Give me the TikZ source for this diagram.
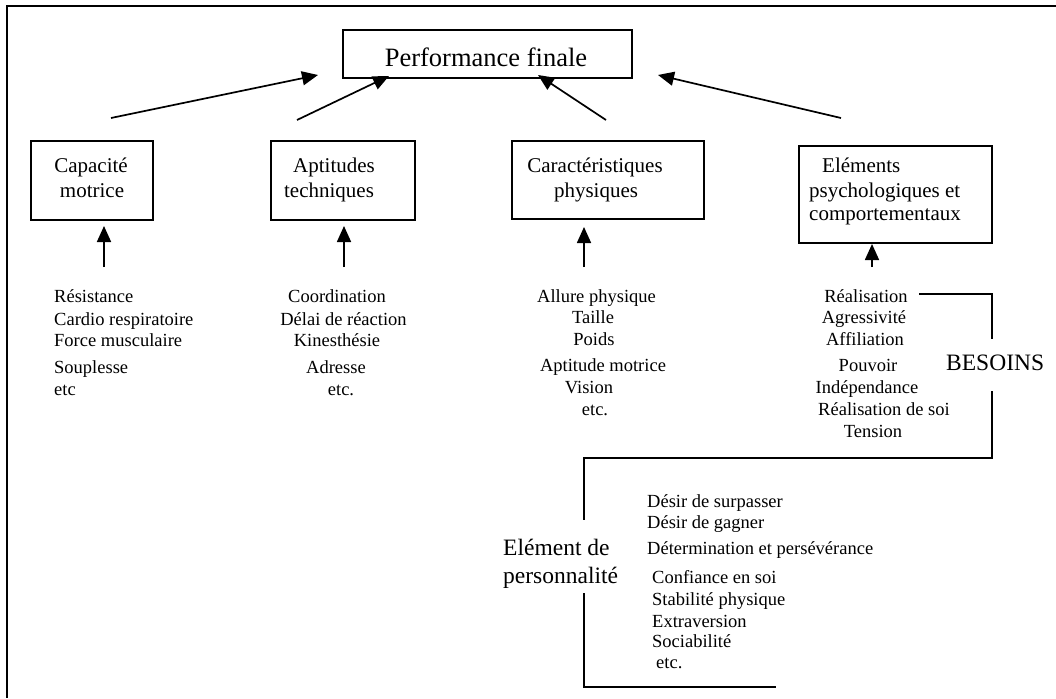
\documentclass[tikz,border=0pt]{standalone}
\usepackage{fontspec}
\setmainfont{Liberation Serif}
\usetikzlibrary{arrows.meta}

% type sizes used in the diagram
\newcommand\fItem{\fontsize{18.5}{22}\selectfont}
\newcommand\fBox{\fontsize{21}{25}\selectfont}
\newcommand\fBig{\fontsize{23.5}{28}\selectfont}
\newcommand\fTitle{\fontsize{26.5}{31}\selectfont}

\tikzset{
  frame/.style={line width=2.2pt},
  box/.style={draw, line width=1.8pt, inner sep=0pt},
  boxtext/.style={font=\fBox, inner sep=0pt, anchor=base},
  item/.style={font=\fItem, inner sep=0pt, anchor=base},
  bigtext/.style={font=\fBig, inner sep=0pt, anchor=base west},
  link/.style={line width=1.7pt, -{Triangle[length=16pt,width=14pt]}},
  bracket/.style={line width=1.8pt}
}

\begin{document}
\begin{tikzpicture}[x=1pt,y=-1pt]
\useasboundingbox (0,0) rectangle (1056,698);

% outer frame (top and left sides)
\draw[frame] (1056,6) -- (7,6) -- (7,698);

% boxes
\node[box, minimum width=289pt, minimum height=48pt] (perf) at (487.5,54) {};
\node[font=\fTitle, inner sep=0pt, anchor=base] (perf-t) at (486,66.5) {Performance finale};

\node[box, minimum width=122pt, minimum height=79pt] (cap) at (92,180.5) {};
\node[boxtext] (cap-t1) at (91,172) {Capacité};
\node[boxtext] (cap-t2) at (92,197) {motrice};

\node[box, minimum width=144pt, minimum height=79pt] (apt) at (343,180.5) {};
\node[boxtext] (apt-t1) at (334,172) {Aptitudes};
\node[boxtext] (apt-t2) at (329,197) {techniques};

\node[box, minimum width=192pt, minimum height=78pt] (car) at (608,180) {};
\node[boxtext] (car-t1) at (595,172) {Caractéristiques};
\node[boxtext] (car-t2) at (596,197) {physiques};

\node[box, minimum width=193pt, minimum height=97pt] (psy) at (895.5,194.5) {};
\node[boxtext, anchor=base west] (psy-t1) at (822,172) {Eléments};
\node[boxtext, anchor=base west] (psy-t2) at (809,197) {psychologiques et};
\node[boxtext, anchor=base west] (psy-t3) at (809,220) {comportementaux};

% arrows towards the final performance
\coordinate (a1s) at (111,118);  \coordinate (a1e) at (318,75);
\coordinate (a2s) at (297,120);  \coordinate (a2e) at (389,76);
\coordinate (a3s) at (606,120);  \coordinate (a3e) at (538,75);
\coordinate (a4s) at (841,118);  \coordinate (a4e) at (658,75);
\draw[link] (a1s) -- (a1e);
\draw[link] (a2s) -- (a2e);
\draw[link] (a3s) -- (a3e);
\draw[link] (a4s) -- (a4e);

% arrows from the lists up to the boxes
\coordinate (v1s) at (104,267);  \coordinate (v1e) at (104,226);
\coordinate (v2s) at (344,267);  \coordinate (v2e) at (344,226);
\coordinate (v3s) at (584,267);  \coordinate (v3e) at (584,227);
\coordinate (v4s) at (872,267);  \coordinate (v4e) at (872,244);
\draw[link] (v1s) -- (v1e);
\draw[link] (v2s) -- (v2e);
\draw[link] (v3s) -- (v3e);
\draw[link] (v4s) -- (v4e);

% lists
\foreach \t/\y [count=\i] in {Résistance/302, Cardio respiratoire/325,
    Force musculaire/346, Souplesse/373, etc/395}
  \node[item, anchor=base west] (cm-\i) at (54,\y) {\t};

\foreach \t/\x/\y [count=\i] in {Coordination/337/302, Délai de réaction/343.5/325,
    Kinesthésie/337/346, Adresse/336/373, etc./341/395}
  \node[item] (at-\i) at (\x,\y) {\t};

\foreach \t/\x/\y [count=\i] in {Allure physique/596.5/302, Taille/593/323,
    Poids/594/345, Aptitude motrice/603/371, Vision/589/393, etc./595/415}
  \node[item] (cp-\i) at (\x,\y) {\t};

\foreach \t/\x/\y [count=\i] in {Réalisation/866/302, Agressivité/864/323,
    Affiliation/865/345, Pouvoir/868/371, Indépendance/867/393,
    Réalisation de soi/884/415, Tension/873/437}
  \node[item] (ep-\i) at (\x,\y) {\t};

\foreach \t/\x/\y [count=\i] in {Désir de surpasser/647/507, Désir de gagner/647/528,
    Détermination et persévérance/647/554, Confiance en soi/652/583,
    Stabilité physique/652/605, Extraversion/652/627, Sociabilité/652/647,
    etc./656/668}
  \node[item, anchor=base west] (pe-\i) at (\x,\y) {\t};

% group labels
\node[bigtext] (besoins) at (946,370) {BESOINS};
\node[bigtext] (pers-1) at (503,555) {Elément de};
\node[bigtext] (pers-2) at (503,583) {personnalité};

% brackets
\coordinate (b1) at (919,294);
\coordinate (b2) at (992,294);
\coordinate (b3) at (992,339);
\coordinate (b4) at (992,391);
\coordinate (b5) at (992,458);
\coordinate (b6) at (584,458);
\coordinate (b7) at (584,520);
\coordinate (b8) at (584,593);
\coordinate (b9) at (584,687);
\coordinate (b10) at (776,687);
\draw[bracket] (b1) -- (b2) -- (b3);
\draw[bracket] (b4) -- (b5) -- (b6) -- (b7);
\draw[bracket] (b8) -- (b9) -- (b10);
\end{tikzpicture}
\end{document}
